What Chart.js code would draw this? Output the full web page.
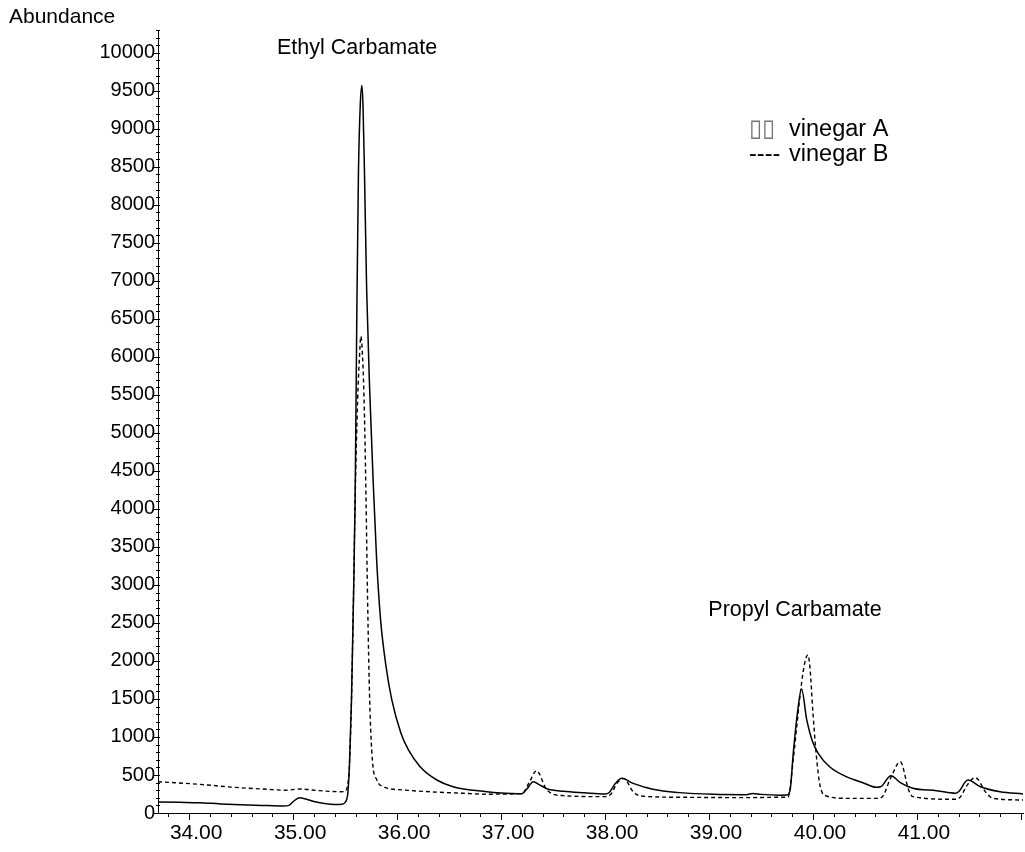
<!DOCTYPE html>
<html>
<head>
<meta charset="utf-8">
<title>Ethyl / Propyl Carbamate chromatogram</title>
<script src="https://cdn.jsdelivr.net/npm/chart.js@4/dist/chart.umd.min.js"></script>
<style>
	html, body { margin: 0; padding: 0; background: #fff; }
	#wrap { width: 1025px; height: 852px; }
</style>
</head>
<body>
<div id="wrap"><canvas id="chromGraph" width="1025" height="852"></canvas></div>
<script>
// retention time (min) / abundance
const timeA = [
	33.70, 33.90, 34.10, 34.30, 34.50, 34.70, 34.90, 34.96, 35.00, 35.06, 35.12, 35.20, 35.30, 35.40, 35.47,
	35.50, 35.515, 35.526, 35.541, 35.561, 35.580, 35.596, 35.613, 35.628, 35.645, 35.661, 35.672, 35.686,
	35.707, 35.736, 35.769, 35.803, 35.841, 35.894, 35.949, 36.036, 36.109, 36.221, 36.382, 36.538,
	36.862, 37.00, 37.10, 37.20, 37.25, 37.31, 37.37, 37.44, 37.60, 37.80, 38.00, 38.04, 38.10, 38.16, 38.27,
	38.46, 38.72, 39.04, 39.36, 39.42, 39.50, 39.68, 39.75, 39.78, 39.81, 39.85, 39.89, 39.94, 39.99, 40.05,
	40.16, 40.32, 40.48, 40.61, 40.65, 40.75, 40.84, 40.96, 41.19, 41.37, 41.40, 41.49, 41.61, 41.80, 42.02,
];
const abundanceA = [
	145, 140, 135, 120, 110, 100, 92, 100, 150, 200, 185, 150, 125, 112, 115,
	140, 180, 263, 609, 1487, 2803, 4118, 6658, 8421, 9300, 9570, 9300, 8421,
	6882, 5566, 4382, 3329, 2540, 1921, 1487, 1053, 829, 609, 434, 346,
	280, 262, 255, 252, 320, 412, 370, 320, 285, 265, 250, 270, 390, 456, 390,
	312, 268, 246, 241, 258, 245, 235, 237, 300, 785, 1312, 1630, 1224, 961, 785,
	609, 478, 399, 338, 345, 491, 399, 325, 294, 259, 280, 434, 346, 280, 250,
];

const timeB = [
	33.70, 34.10, 34.43, 34.75, 34.92, 35.07, 35.25, 35.45, 35.50, 35.53, 35.541, 35.561, 35.580, 35.596,
	35.620, 35.638, 35.651, 35.673, 35.689, 35.701, 35.716, 35.736, 35.762, 35.805, 35.868, 36.061, 36.638,
	36.894, 37.00, 37.20, 37.27, 37.34, 37.44, 37.60, 37.98, 38.05, 38.12, 38.18, 38.27, 38.34, 38.72, 39.36,
	39.68, 39.76, 39.81, 39.85, 39.89, 39.92, 39.95, 39.97, 40.00, 40.03, 40.07, 40.13, 40.32, 40.61, 40.66,
	40.75, 40.84, 40.92, 40.96, 41.35, 41.41, 41.48, 41.56, 41.67, 41.73, 42.02,
];
const abundanceB = [
	412, 377, 338, 312, 300, 315, 294, 280, 285, 420, 609, 1487, 2803, 4118,
	5434, 6000, 6270, 5829, 5040, 4118, 2803, 1487, 697, 434, 346, 303, 259,
	246, 250, 255, 400, 557, 303, 228, 215, 240, 400, 456, 280, 224, 207, 202,
	207, 210, 700, 1224, 1707, 1970, 2080, 1925, 1312, 785, 346, 224, 193, 193, 205,
	470, 675, 303, 215, 180, 200, 360, 465, 259, 193, 171,
];

// axis ticks
const xLabelTicks = [34, 35, 36, 37, 38, 39, 40, 41];
const yLabelTicks = [0, 500, 1000, 1500, 2000, 2500, 3000, 3500, 4000, 4500, 5000,
	5500, 6000, 6500, 7000, 7500, 8000, 8500, 9000, 9500, 10000];

// peak labels and text legend, placed in data units
const peakNames = ["Ethyl Carbamate", "Propyl Carbamate"];
const peakLabelX = [35.615, 39.827];
const peakLabelY = [10060, 2670];
const legendMarks = ["▯▯", "----"];
const legendNames = ["vinegar A", "vinegar B"];
const legendX = 39.385;
const legendY = [8990, 8660];

const FONT = "'Liberation Sans', Arial, sans-serif";

const toPoints = (xs, ys) => xs.map((t, i) => ({ x: t, y: ys[i] }));

// minor/major tick marks, labels, "Abundance"
const chromDecor = {
	id: "chromDecor",
	afterDraw(chart) {
		const { ctx, scales: { x, y } } = chart;
		ctx.save();
		ctx.strokeStyle = "#000";
		ctx.lineWidth = 1;
		ctx.beginPath();
		for (let i = 169; i <= 210; i++) {
			const px = Math.round(x.getPixelForValue(i / 5)) + 0.5;
			const len = i % 5 === 0 ? 7 : 4;
			ctx.moveTo(px, y.bottom);
			ctx.lineTo(px, y.bottom + len);
		}
		for (let v = 0; v <= 10300; v += 100) {
			const py = Math.round(y.getPixelForValue(v)) + 0.5;
			const len = v % 500 === 0 ? 4 : 2;
			ctx.moveTo(x.left - len, py);
			ctx.lineTo(x.left + 2, py);
		}
		ctx.stroke();

		ctx.fillStyle = "#000";
		ctx.textBaseline = "middle";
		ctx.font = "21px " + FONT;
		ctx.textAlign = "left";
		ctx.fillText("Abundance", 9, 17);

		ctx.font = "21.5px " + FONT;
		ctx.textAlign = "center";
		peakNames.forEach((name, i) => {
			ctx.fillText(name, x.getPixelForValue(peakLabelX[i]), y.getPixelForValue(peakLabelY[i]));
		});

		// text legend: marker glyphs then name
		ctx.font = "23.5px " + FONT;
		ctx.textAlign = "left";
		legendNames.forEach((name, i) => {
			const lx = x.getPixelForValue(legendX);
			const ly = y.getPixelForValue(legendY[i]);
			ctx.fillStyle = i === 0 ? "#777" : "#000";
			ctx.fillText(legendMarks[i], lx, ly);
			ctx.fillStyle = "#000";
			ctx.fillText(name, lx + 40, ly);
		});
		ctx.restore();
	},
};

const chromGraph = document.getElementById("chromGraph");

new Chart(chromGraph, {
	type: "line",
	data: {
		datasets: [
			{
				label: "vinegar A",
				data: toPoints(timeA, abundanceA),
				borderColor: "#000",
				borderWidth: 1.5,
				pointRadius: 0,
				cubicInterpolationMode: "monotone",
			},
			{
				label: "vinegar B",
				data: toPoints(timeB, abundanceB),
				borderColor: "#000",
				borderWidth: 1.4,
				borderDash: [4, 3],
				pointRadius: 0,
				cubicInterpolationMode: "monotone",
			},
		],
	},
	options: {
		responsive: false,
		animation: false,
		layout: { padding: { top: 30, right: 2, left: 0, bottom: 0 } },
		plugins: {
			legend: { display: false },
			tooltip: { enabled: false },
		},
		scales: {
			x: {
				type: "linear",
				min: 33.7,
				max: 42.02,
				grid: { display: false, drawTicks: false },
				border: { display: true, color: "#000", width: 1 },
				afterBuildTicks: (scale) => {
					scale.ticks = xLabelTicks.map((v) => ({ value: v }));
				},
				afterFit: (scale) => {
					scale.height = 39;
				},
				ticks: {
					autoSkip: false,
					maxRotation: 0,
					padding: 8,
					labelOffset: 7,
					color: "#000",
					font: { size: 21, family: FONT },
					callback: (v) => Number(v).toFixed(2),
				},
			},
			y: {
				type: "linear",
				min: 0,
				max: 10300,
				grid: { display: false, drawTicks: false },
				border: { display: true, color: "#000", width: 1 },
				afterBuildTicks: (scale) => {
					scale.ticks = yLabelTicks.map((v) => ({ value: v }));
				},
				afterFit: (scale) => {
					scale.width = 158;
				},
				ticks: {
					autoSkip: false,
					padding: 3,
					color: "#000",
					font: { size: 20, family: FONT },
					callback: (v) => String(v),
				},
			},
		},
	},
	plugins: [chromDecor],
});
</script>
</body>
</html>
